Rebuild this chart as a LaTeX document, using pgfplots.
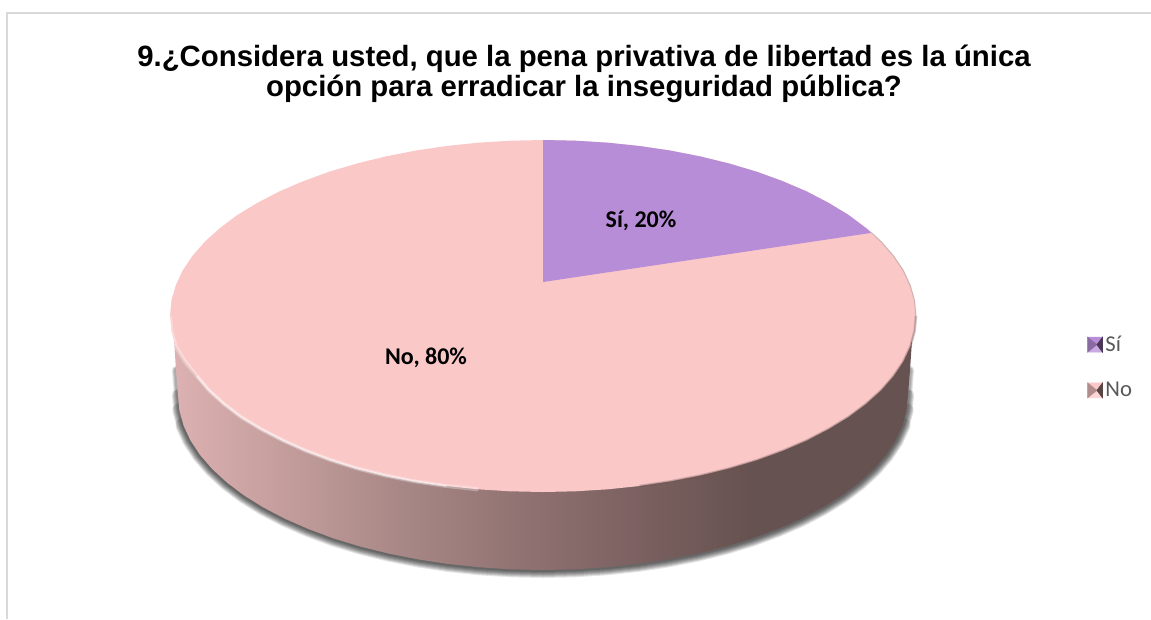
\documentclass[border=0pt]{standalone}
\usepackage{pgfplots}
\pgfplotsset{compat=1.18}
\usepackage{pgfplotstable}
\usepackage{fontspec}
\setmainfont{Carlito}
\newfontfamily\titlefont{Liberation Sans}
\definecolor{piepink}{HTML}{FBC8C8}
\definecolor{piepurple}{HTML}{B88DD8}
\definecolor{legendtext}{HTML}{595959}
\definecolor{framegray}{HTML}{D9D9D9}
\definecolor{sidea}{HTML}{DDB1B1}
\definecolor{sideb}{HTML}{A98987}
\definecolor{sidec}{HTML}{8A6C6C}
\definecolor{sided}{HTML}{665250}
\pgfdeclarehorizontalshading{sideshade}{100bp}{
  color(0bp)=(sidea); color(25bp)=(sidea);
  color(40bp)=(sideb); color(51bp)=(sidec);
  color(64bp)=(sided); color(100bp)=(sided)}

% ellipse of the top face, pixels of the reference
\pgfplotstableread{
x y
543 140
575.5 140.7
607.8 142.7
639.5 146
670.6 150.6
700.6 156.5
729.5 163.6
757 171.8
782.8 181.2
806.8 191.5
828.7 202.9
848.6 215
866 228
881.1 241.6
893.5 255.8
903.3 270.4
910.3 285.4
914.6 300.7
916 316
914.6 331.3
910.3 346.6
903.3 361.6
893.5 376.2
881.1 390.4
866 404
848.6 417
828.7 429.1
806.8 440.5
782.8 450.8
757 460.2
729.5 468.4
700.6 475.5
670.6 481.4
639.5 486
607.8 489.3
575.5 491.3
543 492
510.5 491.3
478.2 489.3
446.5 486
415.4 481.4
385.4 475.5
357 468.4
331 460.2
306 450.8
283 440.5
261 429.1
241 417
224 404
209 390.4
197 376.2
185 361.6
175.7 346.6
171.4 331.3
170 316
171.4 300.7
175.7 285.4
182.7 270.4
192.5 255.8
204.9 241.6
220 228
237.4 215
257.3 202.9
279.2 191.5
303.2 181.2
329 171.8
356.5 163.6
385.4 156.5
415.4 150.6
446.5 146
478.2 142.7
510.5 140.7
543 140
}\pieTop

% side wall, its lower rim between the two top corners
\pgfplotstableread{
x y
913 325
910 370
908 395
906.6 410.3
902.5 425.4
895.6 440.3
886 454.9
873.8 469
859.1 482.5
842 495.4
822.6 507.5
801.1 518.7
777.6 529
752.4 538.4
725.5 546.6
697.2 553.6
667.8 559.4
637.5 564
606.4 567.3
574.8 569.3
543 570
511.2 569.3
479.6 567.3
448.5 564
418.2 559.4
388.8 553.6
360.5 546.6
333.6 538.4
308.4 529
284.9 518.7
263.4 507.5
244 495.4
226.9 482.5
212.2 469
200 454.9
190.4 440.3
183.5 425.4
179.4 410.3
178 395
176 370
173 325
}\pieSide

% slice Si, 20 percent: apex and arc
\pgfplotstableread{
x y
543 282
543 140
575.5 140.7
607.8 142.7
639.5 146
670.6 150.6
700.6 156.5
729.5 163.6
757 171.8
782.8 181.2
806.8 191.5
828.7 202.9
848.6 215
866 228
871.7 232.8
}\pieSi

\begin{document}
\begin{tikzpicture}
\begin{axis}[
  scale only axis, width=863.25pt, height=464.25pt,
  xmin=0, xmax=1151, ymin=0, ymax=619, y dir=reverse,
  hide axis,
  title={9.¿Considera usted, que la pena privativa de libertad es la única\\opción para erradicar la inseguridad pública?},
  title style={at={(axis cs:584,82)}, anchor=center, align=center, inner sep=0pt,
    font=\titlefont\bfseries\fontsize{22}{22.5}\selectfont},
  legend style={at={(axis cs:1087,333)}, anchor=north west, draw=none, fill=none,
    font=\fontsize{17}{18}\selectfont\color{legendtext}, row sep=17.5pt, inner sep=0pt,
    /tikz/every even column/.style={column sep=3.5pt}},
  legend cell align=left,
]
% background and chart frame
\addplot[forget plot, draw=none, fill=white] coordinates {(0,0) (1151,0) (1151,619) (0,619)} --cycle;
\addplot[forget plot, framegray, line width=1.3pt] coordinates {(7,619) (7,13) (1151,13)};

% soft shadow round the lower rim, the wider strokes start lower down
\addplot[forget plot, black, opacity=0.1, line width=12pt, line cap=round, restrict y to domain=425:600] table {\pieSide};
\addplot[forget plot, black, opacity=0.12, line width=10.5pt, line cap=round, restrict y to domain=410:600] table {\pieSide};
\addplot[forget plot, black, opacity=0.12, line width=9pt, line cap=round, restrict y to domain=395:600] table {\pieSide};
\addplot[forget plot, black, opacity=0.12, line width=7.5pt, line cap=round, restrict y to domain=395:600] table {\pieSide};
\addplot[forget plot, black, opacity=0.12, line width=6pt, line cap=round, restrict y to domain=365:600] table {\pieSide};
\addplot[forget plot, black, opacity=0.12, line width=4.5pt, line cap=round, restrict y to domain=365:600] table {\pieSide};
\addplot[forget plot, black, opacity=0.12, line width=3pt, line cap=round, restrict y to domain=365:600] table {\pieSide};
% side wall
\addplot[forget plot, draw=none, shade, shading=sideshade] table {\pieSide} --cycle;
% top face and the slice
\addplot[forget plot, draw=none, fill=piepink] table {\pieTop} --cycle;
\addplot[forget plot, draw=none, fill=piepurple] table {\pieSi} --cycle;

% bevel: bright on the lower left, dark on the right
\addplot[forget plot, white, opacity=0.3, line width=3pt] coordinates {(170,316) (171.4,331.3) (175.7,346.6) (185,361.6) (197,376.2) (209,390.4) (224,404) (241,417) (261,429.1) (283,440.5) (306,450.8) (331,460.2) (357,468.4) (385.4,475.5) (415.4,481.4) (446.5,486) (478.2,489.3)};
\addplot[forget plot, white, opacity=0.55, line width=1.2pt] coordinates {(197,376.2) (209,390.4) (224,404) (241,417) (261,429.1) (283,440.5) (306,450.8) (331,460.2) (357,468.4) (385.4,475.5) (415.4,481.4) (446.5,486)};
\addplot[forget plot, color=sided, opacity=0.3, line width=0.8pt] coordinates {(871.7,232.8) (881.1,241.6) (893.5,255.8) (903.3,270.4) (910.3,285.4) (914.6,300.7) (916,316)};
\addplot[forget plot, color=sided, opacity=0.25, line width=2pt] coordinates {(916,316) (914.6,331.3) (910.3,346.6) (903.3,361.6) (893.5,376.2) (881.1,390.4) (866,404) (848.6,417) (828.7,429.1) (806.8,440.5) (782.8,450.8) (757,460.2) (729.5,468.4) (700.6,475.5) (670.6,481.4) (639.5,486)};
\addplot[forget plot, color=sided, opacity=0.25, line width=0.9pt] coordinates {(916,316) (914.6,331.3) (910.3,346.6) (903.3,361.6) (893.5,376.2) (881.1,390.4) (866,404) (848.6,417) (828.7,429.1) (806.8,440.5) (782.8,450.8) (757,460.2) (729.5,468.4) (700.6,475.5) (670.6,481.4) (639.5,486)};

% legend, one bevelled square for each slice
\addlegendimage{legend image code/.code={
  \fill[piepurple] (0pt,5.6pt) -- (11.2pt,5.6pt) -- (7pt,0pt) -- cycle;
  \fill[piepurple!75!white] (0pt,-5.6pt) -- (11.2pt,-5.6pt) -- (7pt,0pt) -- cycle;
  \fill[piepurple!75!black] (0pt,5.6pt) -- (0pt,-5.6pt) -- (7pt,0pt) -- cycle;
  \fill[piepurple!40!black] (11.2pt,5.6pt) -- (11.2pt,-5.6pt) -- (7pt,0pt) -- cycle;
}}
\addlegendentry{Sí}
\addlegendimage{legend image code/.code={
  \fill[piepink] (0pt,5.6pt) -- (11.2pt,5.6pt) -- (7pt,0pt) -- cycle;
  \fill[piepink!75!white] (0pt,-5.6pt) -- (11.2pt,-5.6pt) -- (7pt,0pt) -- cycle;
  \fill[piepink!70!black] (0pt,5.6pt) -- (0pt,-5.6pt) -- (7pt,0pt) -- cycle;
  \fill[piepink!35!black] (11.2pt,5.6pt) -- (11.2pt,-5.6pt) -- (7pt,0pt) -- cycle;
}}
\addlegendentry{No}

% data labels
\node[font=\bfseries\fontsize{18}{20}\selectfont, black] at (axis cs:641,221) {Sí, 20\%};
\node[font=\bfseries\fontsize{18}{20}\selectfont, black] at (axis cs:426,358) {No, 80\%};
\end{axis}
\end{tikzpicture}
\end{document}
